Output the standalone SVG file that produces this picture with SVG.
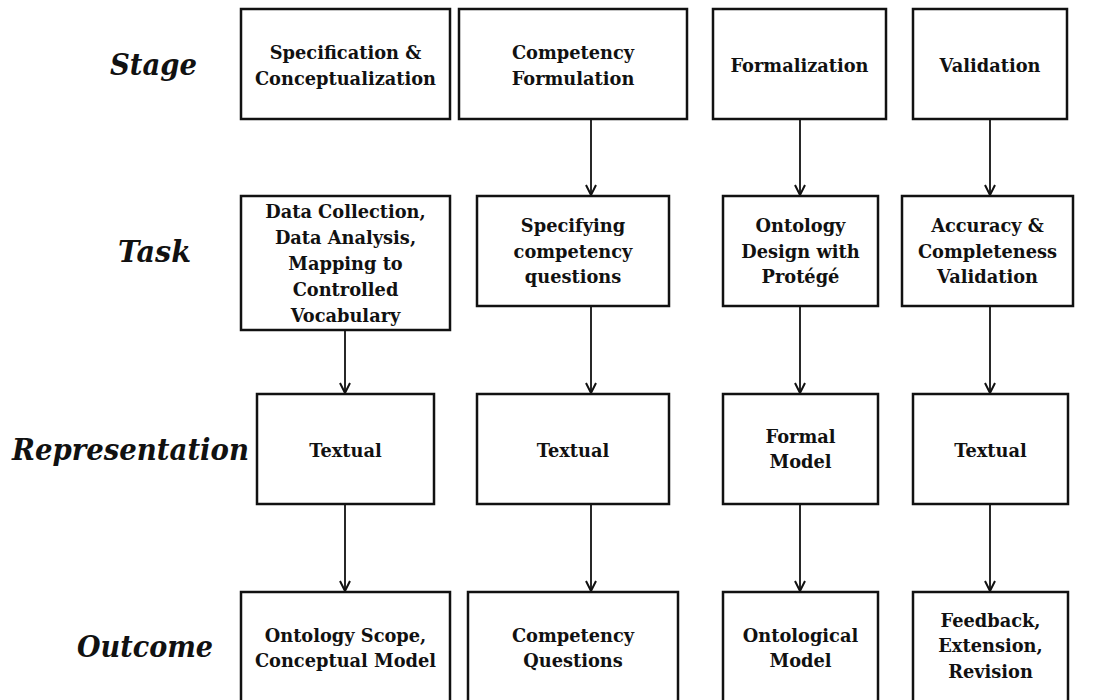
<svg xmlns="http://www.w3.org/2000/svg" width="1112" height="700" viewBox="0 0 1112 700">
<style>
.box{fill:#fff;stroke:#111;stroke-width:2.5}
.t{font-family:"DejaVu Serif","Liberation Serif",serif;font-weight:bold;font-size:17.8px;fill:#111;text-anchor:middle}
.lab{font-family:"DejaVu Serif","Liberation Serif",serif;font-weight:bold;font-style:italic;font-size:29px;fill:#111}
.c{stroke:#111;stroke-width:1.8;fill:none}
</style>
<defs>
<marker id="ah" markerWidth="12" markerHeight="12" viewBox="0 0 12 12" refX="11" refY="6" orient="auto" markerUnits="userSpaceOnUse">
<path d="M1,1 L11,6 L1,11" fill="none" stroke="#111" stroke-width="2"/>
</marker>
</defs>
<rect width="1112" height="700" fill="#fff"/>
<g id="row-labels">
<text class="lab" x="110" y="75" textLength="87" lengthAdjust="spacingAndGlyphs">Stage</text>
<text class="lab" x="118" y="262" textLength="73" lengthAdjust="spacingAndGlyphs">Task</text>
<text class="lab" x="12" y="460" textLength="237" lengthAdjust="spacingAndGlyphs">Representation</text>
<text class="lab" x="77" y="657" textLength="136" lengthAdjust="spacingAndGlyphs">Outcome</text>
</g>
<g id="connectors">
<line class="c" x1="591" y1="120" x2="591" y2="195" marker-end="url(#ah)"/>
<line class="c" x1="800" y1="120" x2="800" y2="195" marker-end="url(#ah)"/>
<line class="c" x1="990" y1="120" x2="990" y2="195" marker-end="url(#ah)"/>
<line class="c" x1="345" y1="331" x2="345" y2="393" marker-end="url(#ah)"/>
<line class="c" x1="591" y1="307" x2="591" y2="393" marker-end="url(#ah)"/>
<line class="c" x1="800" y1="307" x2="800" y2="393" marker-end="url(#ah)"/>
<line class="c" x1="990" y1="307" x2="990" y2="393" marker-end="url(#ah)"/>
<line class="c" x1="345" y1="505" x2="345" y2="591" marker-end="url(#ah)"/>
<line class="c" x1="591" y1="505" x2="591" y2="591" marker-end="url(#ah)"/>
<line class="c" x1="800" y1="505" x2="800" y2="591" marker-end="url(#ah)"/>
<line class="c" x1="990" y1="505" x2="990" y2="591" marker-end="url(#ah)"/>
</g>
<g id="stage-1"><rect class="box" x="241" y="9" width="209" height="110"/>
<text class="t" x="345.5" y="59">Specification &amp;</text><text class="t" x="345.5" y="85">Conceptualization</text></g>
<g id="stage-2"><rect class="box" x="459" y="9" width="228" height="110"/>
<text class="t" x="573" y="59">Competency</text><text class="t" x="573" y="85">Formulation</text></g>
<g id="stage-3"><rect class="box" x="713" y="9" width="173" height="110"/>
<text class="t" x="799.5" y="72">Formalization</text></g>
<g id="stage-4"><rect class="box" x="913" y="9" width="154" height="110"/>
<text class="t" x="990" y="72">Validation</text></g>

<g id="task-1"><rect class="box" x="241" y="196" width="209" height="134"/>
<text class="t" x="345.5" y="218">Data Collection,</text><text class="t" x="345.5" y="244">Data Analysis,</text><text class="t" x="345.5" y="270">Mapping to</text><text class="t" x="345.5" y="296">Controlled</text><text class="t" x="345.5" y="322">Vocabulary</text></g>
<g id="task-2"><rect class="box" x="477" y="196" width="192" height="110"/>
<text class="t" x="573" y="232">Specifying</text><text class="t" x="573" y="258">competency</text><text class="t" x="573" y="283">questions</text></g>
<g id="task-3"><rect class="box" x="723" y="196" width="155" height="110"/>
<text class="t" x="800.5" y="232">Ontology</text><text class="t" x="800.5" y="258">Design with</text><text class="t" x="800.5" y="283">Protégé</text></g>
<g id="task-4"><rect class="box" x="902" y="196" width="171" height="110"/>
<text class="t" x="987.5" y="232">Accuracy &amp;</text><text class="t" x="987.5" y="258">Completeness</text><text class="t" x="987.5" y="283">Validation</text></g>

<g id="rep-1"><rect class="box" x="257" y="394" width="177" height="110"/>
<text class="t" x="345.5" y="457">Textual</text></g>
<g id="rep-2"><rect class="box" x="477" y="394" width="192" height="110"/>
<text class="t" x="573" y="457">Textual</text></g>
<g id="rep-3"><rect class="box" x="723" y="394" width="155" height="110"/>
<text class="t" x="800.5" y="443">Formal</text><text class="t" x="800.5" y="468">Model</text></g>
<g id="rep-4"><rect class="box" x="913" y="394" width="155" height="110"/>
<text class="t" x="990.5" y="457">Textual</text></g>

<g id="out-1"><rect class="box" x="241" y="592" width="209" height="130"/>
<text class="t" x="345.5" y="642">Ontology Scope,</text><text class="t" x="345.5" y="667">Conceptual Model</text></g>
<g id="out-2"><rect class="box" x="468" y="592" width="210" height="130"/>
<text class="t" x="573" y="642">Competency</text><text class="t" x="573" y="667">Questions</text></g>
<g id="out-3"><rect class="box" x="723" y="592" width="155" height="130"/>
<text class="t" x="800.5" y="642">Ontological</text><text class="t" x="800.5" y="667">Model</text></g>
<g id="out-4"><rect class="box" x="913" y="592" width="155" height="130"/>
<text class="t" x="990.5" y="627">Feedback,</text><text class="t" x="990.5" y="652">Extension,</text><text class="t" x="990.5" y="678">Revision</text></g>
</svg>
